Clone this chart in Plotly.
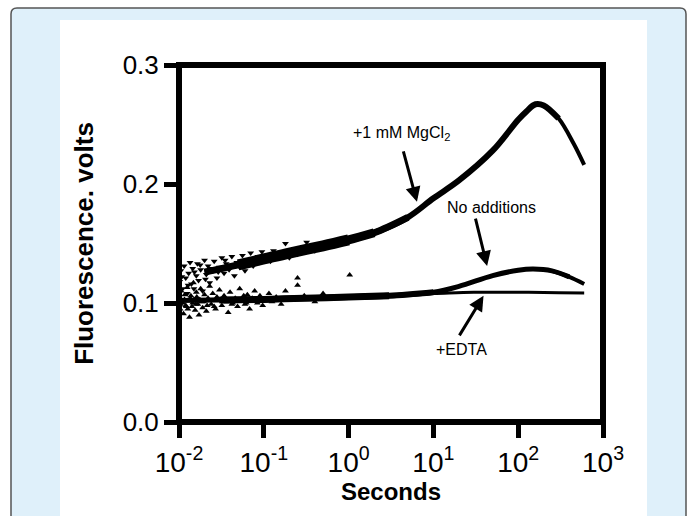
import plotly.graph_objects as go
import numpy as np

# ---------------- data ----------------
# +1 mM MgCl2 : smooth trace
time_mg = [0.01, 0.02, 0.05, 0.1, 0.2, 0.5, 1, 2, 5, 10, 20, 50, 100, 125, 160, 200, 300, 450, 600]
mg      = [0.120, 0.126, 0.132, 0.137, 0.142, 0.148, 0.153, 0.159, 0.172, 0.188, 0.203, 0.228, 0.254, 0.261, 0.267, 0.266, 0.255, 0.234, 0.216]

# No additions
time_na = [0.01, 0.03, 0.1, 0.3, 1, 3, 10, 20, 50, 100, 150, 250, 400, 600]
na      = [0.102, 0.1025, 0.103, 0.104, 0.105, 0.106, 0.109, 0.114, 0.123, 0.1275, 0.1285, 0.127, 0.122, 0.116]

# +EDTA
time_ed = [0.01, 0.1, 1, 10, 30, 100, 300, 600]
ed      = [0.103, 0.104, 0.106, 0.108, 0.109, 0.109, 0.1087, 0.1085]

# noisy early points, +1 mM MgCl2 (down triangles)
mg_pts_t = [0.0102, 0.0105, 0.011, 0.0115, 0.012, 0.0125, 0.013, 0.0135, 0.014, 0.0145, 0.015, 0.016,
            0.0165, 0.017, 0.018, 0.019, 0.020, 0.021, 0.022, 0.023, 0.025, 0.026, 0.028, 0.030,
            0.032, 0.034, 0.036, 0.039, 0.042, 0.045, 0.048, 0.052, 0.056, 0.060, 0.065, 0.070,
            0.075, 0.081, 0.088, 0.095, 0.10, 0.11, 0.12, 0.13, 0.14, 0.155, 0.18, 0.32, 0.2, 0.25, 0.4,
            0.0108, 0.0128, 0.0152, 0.0178, 0.0205, 0.024, 0.029, 0.035, 0.044, 0.054, 0.068, 0.085]
mg_pts_v = [0.118, 0.127, 0.112, 0.131, 0.121, 0.108, 0.125, 0.134, 0.116, 0.129, 0.112, 0.123,
            0.133, 0.119, 0.128, 0.110, 0.136, 0.124, 0.131, 0.117, 0.127, 0.135, 0.121, 0.130,
            0.138, 0.125, 0.133, 0.128, 0.139, 0.123, 0.134, 0.130, 0.140, 0.127, 0.136, 0.142,
            0.131, 0.138, 0.134, 0.143, 0.137, 0.140, 0.135, 0.144, 0.139, 0.142, 0.150, 0.151, 0.138, 0.141, 0.144,
            0.122, 0.115, 0.126, 0.132, 0.120, 0.129, 0.126, 0.136, 0.131, 0.135, 0.133, 0.139]

# noisy early points, no additions (up triangles)
na_pts_t = [0.0101, 0.0106, 0.0113, 0.012, 0.013, 0.0138, 0.0148, 0.0155, 0.0167, 0.018, 0.019,
            0.021, 0.023, 0.025, 0.028, 0.032, 0.036, 0.040, 0.046, 0.052, 0.060, 0.068, 0.078,
            0.09, 0.105, 0.125, 0.16, 0.21, 0.25, 0.4, 0.7,
            0.0104, 0.0116, 0.0127, 0.0145, 0.0162, 0.0195, 0.026, 0.034, 0.042, 0.058]
na_pts_v = [0.104, 0.110, 0.091, 0.098, 0.102, 0.106, 0.117, 0.094, 0.099, 0.112, 0.096,
            0.093, 0.114, 0.108, 0.103, 0.098, 0.101, 0.109, 0.104, 0.112, 0.099, 0.095, 0.110,
            0.106, 0.103, 0.101, 0.099, 0.102, 0.121, 0.101, 0.104,
            0.099, 0.103, 0.095, 0.100, 0.105, 0.101, 0.097, 0.104, 0.099, 0.106]

# noisy early points, +EDTA (up triangles)
ed_pts_t = [0.0103, 0.011, 0.0117, 0.0125, 0.0133, 0.0142, 0.015, 0.016, 0.0172, 0.0185, 0.020,
            0.022, 0.024, 0.027, 0.030, 0.034, 0.038, 0.043, 0.049, 0.056, 0.064, 0.073, 0.084,
            0.097, 0.115, 0.14, 0.18, 0.25, 0.3, 0.5, 1.03,
            0.0109, 0.0122, 0.0136, 0.0158, 0.0176, 0.0215, 0.028, 0.037, 0.047, 0.062]
ed_pts_v = [0.095, 0.100, 0.107, 0.113, 0.088, 0.097, 0.103, 0.109, 0.090, 0.101, 0.107,
            0.104, 0.099, 0.095, 0.111, 0.106, 0.092, 0.100, 0.097, 0.102, 0.107, 0.104, 0.100,
            0.098, 0.108, 0.105, 0.110, 0.115, 0.106, 0.108, 0.1235,
            0.102, 0.097, 0.104, 0.099, 0.103, 0.098, 0.105, 0.101, 0.103, 0.100]

x_tickvals = [0.01, 0.1, 1, 10, 100, 1000]
x_ticktext = ["10<sup>-2</sup>", "10<sup>-1</sup>", "10<sup>0</sup>", "10<sup>1</sup>", "10<sup>2</sup>", "10<sup>3</sup>"]
y_tickvals = [0.0, 0.1, 0.2, 0.3]
y_ticktext = ["0.0", "0.1", "0.2", "0.3"]

# ---------------- figure ----------------
W, H = 689, 516
ML, MR, MT, MB = 179, 86, 65, 94
PW, PH = W - ML - MR, H - MT - MB
FONT = "Liberation Sans, Arial, sans-serif"


def px2paper(px, py):
    return (px - ML) / PW, (H - MB - py) / PH


def seg(t, v, lo, hi):
    t = np.asarray(t, float)
    v = np.asarray(v, float)
    m = (t >= lo) & (t <= hi)
    return t[m], v[m]


fig = go.Figure()


def add_line(t, v, lo, hi, width):
    tt, vv = seg(t, v, lo, hi)
    fig.add_trace(go.Scatter(x=tt, y=vv, mode="lines", line=dict(color="black", width=width, shape="spline"),
                             hoverinfo="skip", showlegend=False))


# MgCl2 (thick noisy band early, thinner later)
add_line(time_mg, mg, 0.05, 1, 11)
add_line(time_mg, mg, 0.05, 2, 9)
add_line(time_mg, mg, 0.02, 5, 7)
add_line(time_mg, mg, 0.02, 300, 6)
add_line(time_mg, mg, 200, 600, 4)
# No additions
add_line(time_na, na, 0.03, 3, 7)
add_line(time_na, na, 0.03, 10, 6)
add_line(time_na, na, 0.01, 400, 5)
add_line(time_na, na, 250, 600, 4)
# EDTA
add_line(time_ed, ed, 0.01, 600, 3)

for tt, vv, sym in [(mg_pts_t, mg_pts_v, "triangle-down"),
                    (na_pts_t, na_pts_v, "triangle-up"),
                    (ed_pts_t, ed_pts_v, "triangle-up")]:
    fig.add_trace(go.Scatter(x=tt, y=vv, mode="markers",
                             marker=dict(symbol=sym, size=6, color="black", line=dict(width=0)),
                             hoverinfo="skip", showlegend=False))

# background shapes
shapes = []
r = 6
x0, y0, x1, y1 = 11, 8, 686, 540


def P(px, py):
    a, b = px2paper(px, py)
    return f"{a:.5f},{b:.5f}"


path = (f"M {P(x0 + r, y0)} L {P(x1 - r, y0)} Q {P(x1, y0)} {P(x1, y0 + r)} "
        f"L {P(x1, y1)} L {P(x0, y1)} L {P(x0, y0 + r)} Q {P(x0, y0)} {P(x0 + r, y0)} Z")
shapes.append(dict(type="path", xref="paper", yref="paper", path=path,
                   fillcolor="#DFF0FA", line=dict(color="#555555", width=1.5), layer="below"))
a0, b0 = px2paper(60, 20)
a1, b1 = px2paper(647, 540)
shapes.append(dict(type="rect", xref="paper", yref="paper", x0=a0, y0=b1, x1=a1, y1=b0,
                   fillcolor="white", line=dict(width=0), layer="below"))
shapes.append(dict(type="rect", xref="x domain", yref="y domain", x0=0, y0=0, x1=1, y1=1,
                   line=dict(color="black", width=6), layer="above"))

ann = []


def arrow(tip, tail_off):
    xl, yv = tip
    ann.append(dict(x=np.log10(xl), y=yv, xref="x", yref="y", text="", showarrow=True,
                    arrowhead=2, arrowsize=1, arrowwidth=3, arrowcolor="black",
                    ax=tail_off[0], ay=tail_off[1], axref="pixel", ayref="pixel"))


arrow((6.4, 0.185), (-14, -52))
arrow((43.0, 0.131), (-12, -49))
arrow((39.0, 0.106), (-25, 41))


def label(txt, px, py):
    a, b = px2paper(px, py)
    ann.append(dict(x=a, y=b, xref="paper", yref="paper", text=txt, showarrow=False,
                    font=dict(family=FONT, size=16, color="black"), xanchor="center", yanchor="middle"))


label("+1 mM MgCl<sub>2</sub>", 401, 133)
label("No additions", 491, 207)
label("+EDTA", 461, 349)

fig.update_layout(
    width=W, height=H,
    margin=dict(l=ML, r=MR, t=MT, b=MB, pad=0),
    paper_bgcolor="white", plot_bgcolor="rgba(0,0,0,0)",
    shapes=shapes, annotations=ann,
    font=dict(family=FONT, color="black"),
    xaxis=dict(type="log", range=[-2, 3], tickvals=x_tickvals, ticktext=x_ticktext,
               ticks="outside", ticklen=15, tickwidth=5, tickcolor="black",
               tickfont=dict(family=FONT, size=28, color="black"),
               showgrid=False, zeroline=False, showline=False,
               title=dict(text="<b>Seconds</b>", font=dict(family=FONT, size=24, color="black"), standoff=2)),
    yaxis=dict(range=[0, 0.3], tickvals=y_tickvals, ticktext=y_ticktext,
               ticks="outside", ticklen=14, tickwidth=5, tickcolor="black",
               tickfont=dict(family=FONT, size=26, color="black"),
               showgrid=False, zeroline=False, showline=False,
               title=dict(text="<b>Fluorescence. volts</b>", font=dict(family=FONT, size=26, color="black"), standoff=21)),
)

fig.write_html("out.html", config={"displayModeBar": False},
               post_script="document.body.style.margin='0';")
